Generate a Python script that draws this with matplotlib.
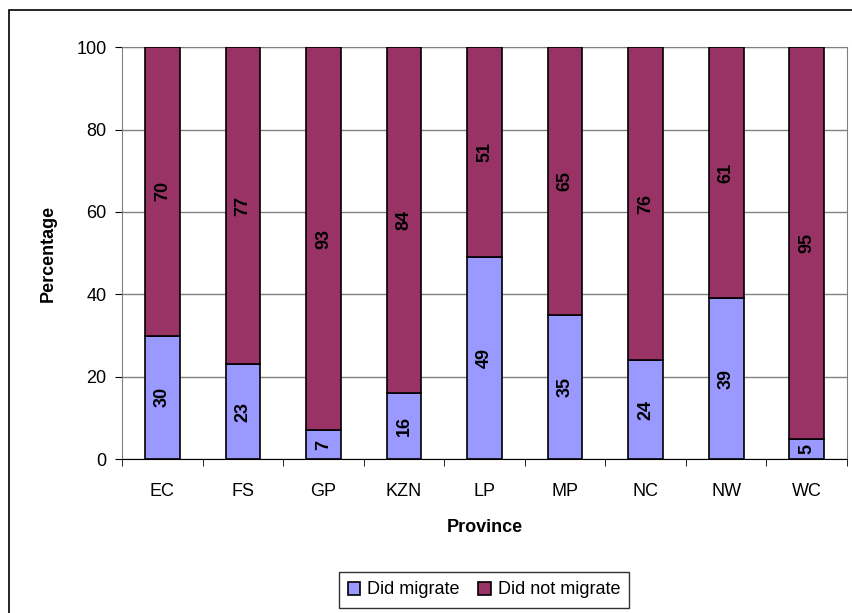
import numpy as np
import matplotlib
matplotlib.use('Agg')
import matplotlib.pyplot as plt
from matplotlib.patches import Rectangle

plt.rcParams['font.family'] = ['Liberation Sans', 'DejaVu Sans']

provinces = ['EC', 'FS', 'GP', 'KZN', 'LP', 'MP', 'NC', 'NW', 'WC']
did_migrate = [30, 23, 7, 16, 49, 35, 24, 39, 5]
did_not_migrate = [70, 77, 93, 84, 51, 65, 76, 61, 95]

fig = plt.figure(figsize=(8.53, 6.13), dpi=100)
ax = fig.add_axes([0.143, 0.251, 0.850, 0.672])

# outer chart border
fig.patches.append(Rectangle((9 / 853, -0.05), 1.0, 1 - 10 / 613 + 0.05,
                             transform=fig.transFigure, fill=False,
                             edgecolor='black', linewidth=1.2))

x = np.arange(len(provinces))
w = 0.43
fs = 13
ax.bar(x, did_migrate, w, color='#9999FF', edgecolor='black', linewidth=1.2,
       label='Did migrate', zorder=3)
ax.bar(x, did_not_migrate, w, bottom=did_migrate, color='#993366',
       edgecolor='black', linewidth=1.2, label='Did not migrate', zorder=3)

for i in range(len(provinces)):
    ax.text(x[i], did_migrate[i] / 2, str(did_migrate[i]), rotation=90,
            ha='center', va='center', fontsize=fs, fontweight='bold', zorder=4)
    ax.text(x[i], did_migrate[i] + did_not_migrate[i] / 2, str(did_not_migrate[i]),
            rotation=90, ha='center', va='center', fontsize=fs, fontweight='bold', zorder=4)

ax.set_xlim(-0.5, len(provinces) - 0.5)
ax.set_ylim(0, 100)
ax.set_yticks([0, 20, 40, 60, 80, 100])
ax.set_xticks(x)
ax.set_xticklabels(provinces)
ax.set_xticks(np.arange(-0.5, len(provinces)), minor=True)
ax.tick_params(axis='x', which='major', length=0, pad=17, labelsize=fs)
ax.tick_params(axis='x', which='minor', length=5, direction='out')
ax.tick_params(axis='y', length=5, labelsize=fs, pad=6)
ax.grid(axis='y', color='#808080', linewidth=1, zorder=0)

for s in ['top', 'right', 'left']:
    ax.spines[s].set_color('#808080')
ax.spines['bottom'].set_color('black')

ax.set_xlabel('Province', fontsize=fs, fontweight='bold', labelpad=14)
ax.set_ylabel('Percentage', fontsize=fs, fontweight='bold', labelpad=14)

leg = fig.legend(loc='center', bbox_to_anchor=(484 / 853, 1 - 590 / 613), ncol=2,
                 frameon=True, fancybox=False, edgecolor='black', fontsize=fs,
                 handlelength=0.7, handleheight=0.7, handletextpad=0.4,
                 columnspacing=1.0, borderpad=0.5)
leg.get_frame().set_linewidth(1.0)

fig.savefig('out.png', dpi=100)
